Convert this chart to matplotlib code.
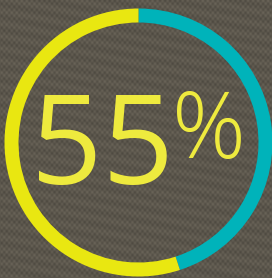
import numpy as np
import matplotlib.pyplot as plt

# ring data: teal part first (clockwise from 12 o'clock), then yellow
labels = ["other", "share"]
values = [45, 55]
colors = ["#00B3BA", "#E9E711"]
big_text = "55"
pct_text = "%"

W, H = 272, 278
fig = plt.figure(figsize=(W / 100, H / 100), dpi=100)
ax = fig.add_axes([0, 0, 1, 1])

# fabric-like background
yy, xx = np.mgrid[0:H, 0:W]
weave = 0.5 + 0.3 * np.sin(xx * 1.25) * np.sin(yy * 1.05) + 0.12 * np.sin(yy * 0.5 + xx * 0.1)
base = np.array([0.36, 0.34, 0.30])
tex = base[None, None, :] * (0.82 + 0.36 * weave[..., None])
ax.imshow(np.clip(tex, 0, 1), extent=(0, W, 0, H), origin="lower", zorder=0)

ax.pie(values, colors=colors, startangle=90, counterclock=False,
       radius=134, center=(138.5, 135.5),
       wedgeprops=dict(width=14, linewidth=0))

ax.text(102.5, 94, big_text, fontsize=90, family="Open Sans", fontweight="normal",
        color="#EEEA3E", ha="center", va="baseline", zorder=3)
ax.text(208.5, 120, pct_text, fontsize=66, family="Open Sans", fontweight=300,
        color="#EEEA3E", ha="center", va="baseline", zorder=3)

ax.set_xlim(0, W)
ax.set_ylim(0, H)
ax.set_aspect("auto")
ax.axis("off")
fig.savefig("out.png", dpi=100)
